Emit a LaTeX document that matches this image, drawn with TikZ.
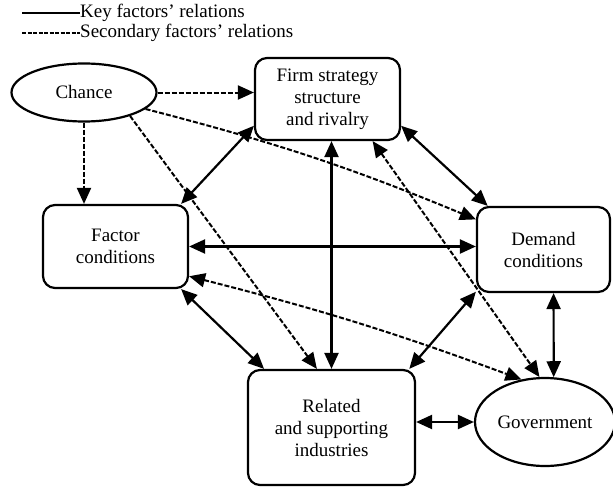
\documentclass[tikz,border=0pt]{standalone}
\usepackage{fontspec}
\setmainfont{Liberation Serif}
\usepackage{tikz}
\usetikzlibrary{positioning,arrows.meta,shapes.geometric,calc}
\tikzset{
  factorbox/.style={draw,line width=2.2pt,rounded corners=12pt,align=center,inner sep=2pt},
  outer/.style={draw,ellipse,line width=2.2pt,align=center,inner sep=2pt},
  keyarr/.style={{Triangle[length=16pt,width=14pt]}-{Triangle[length=16pt,width=14pt]},line width=2.2pt},
  secarr/.style={-{Triangle[length=16pt,width=14pt]},line width=2pt,dash pattern=on 5pt off 2pt},
  secboth/.style={{Triangle[length=16pt,width=14pt]}-{Triangle[length=16pt,width=14pt]},line width=2pt,dash pattern=on 5pt off 2pt}
}

\begin{document}
\begin{tikzpicture}[x=1pt,y=-1pt,font=\fontsize{19}{22}\selectfont]
\useasboundingbox (0,0) rectangle (613,487);

% legend
\coordinate (k0) at (22,13);
\node[anchor=west,inner sep=0pt] (keytxt) at (80,13) {Key factors' relations};
\coordinate (s0) at (22,33);
\node[anchor=west,inner sep=0pt] (sectxt) at (80,33) {Secondary factors' relations};
\draw[line width=2.2pt] (k0) -- (keytxt.west);
\draw[line width=2pt,dash pattern=on 4pt off 1.5pt] (s0) -- (sectxt.west);

% factors
\node[outer,minimum width=145pt,minimum height=58pt] (chance) at (84,92.5) {Chance};
\node[factorbox,minimum width=145pt,minimum height=82pt] (firm) at (327.5,99) {Firm strategy\\structure\\and rivalry};
\node[factorbox,minimum width=145pt,minimum height=83pt] (factor) at (115.5,246.5) {Factor\\conditions};
\node[factorbox,minimum width=133pt,minimum height=85pt] (demand) at (543.5,249.5) {Demand\\conditions};
\node[factorbox,minimum width=167pt,minimum height=115pt] (related) at (331.5,427.5) {Related\\and supporting\\industries};
\node[outer,minimum width=136pt,minimum height=88pt] (gov) at (545,422) {Government};

% secondary relations
\draw[secarr] (chance.east) -- (chance.east -| firm.west);
\draw[secarr] (chance.south) -- (chance.south |- factor.north);
\draw[secarr] (chance.-15) to[bend left=4] (demand.156);
\draw[secarr] (chance.-27) -- (related.104);
\draw[secboth] (factor.-22) to[bend left=3] (gov.119);
\draw[secboth] (firm.-43) -- (gov.97);

% key relations
\draw[keyarr] (firm.200) -- (factor.33);
\draw[keyarr] (firm.-20) -- (demand.142);
\draw[keyarr] (related.north) -- (related.north |- firm.south);
\draw[keyarr] (factor.east) -- (factor.east -| demand.west);
\draw[keyarr] (factor.-33) -- (related.139);
\draw[keyarr] (demand.212) -- (related.37);
\draw[keyarr] (demand.-77) -- (gov.79);
\draw[keyarr] (gov.west -| related.east) -- (gov.west);
\end{tikzpicture}
\end{document}
